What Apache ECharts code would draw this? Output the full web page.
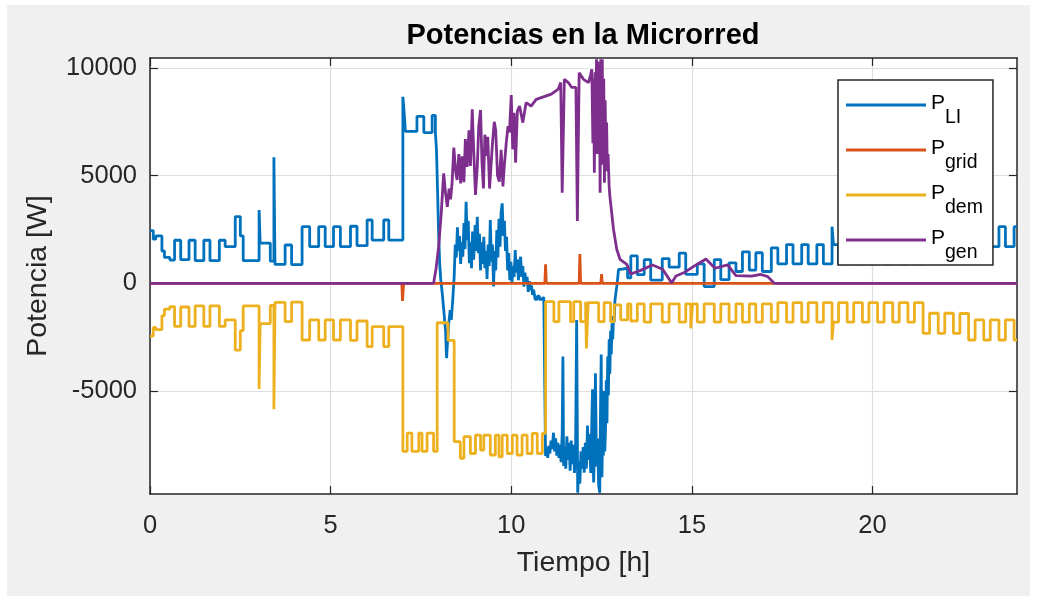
<!DOCTYPE html>
<html>
<head>
<meta charset="utf-8">
<script src="https://cdn.jsdelivr.net/npm/echarts@6/dist/echarts.min.js"></script>
<style>
  html, body { margin: 0; padding: 0; background: #ffffff; }
  #frame { position: absolute; left: 7px; top: 5px; width: 1023px; height: 591px; background: #f0f0f0; }
  #chart { position: absolute; left: 0; top: 0; width: 1040px; height: 596px; }
</style>
</head>
<body>
<div id="frame"></div>
<div id="chart"></div>
<script>
// Series names and the subscripts shown in the legend
const seriesNames = ['PLI', 'Pgrid', 'Pdem', 'Pgen'];
const legendSubs = { PLI: 'LI', Pgrid: 'grid', Pdem: 'dem', Pgen: 'gen' };
const seriesColors = ['#0072BD', '#D95319', '#EDB120', '#7E2F8E'];

// Tick values of both axes
const xTicks = [0, 5, 10, 15, 20];
const yTicks = [-5000, 0, 5000, 10000];

// Battery / inverter power [h, W] (each value held until the next sample)
const pLI = [
  [0, 2450], [0.09, 2050], [0.16, 2200], [0.33, 1500], [0.40, 1200], [0.55, 1080],
  [0.68, 2000], [0.85, 1100], [1.08, 2000], [1.25, 1050], [1.49, 2000], [1.66, 1050],
  [1.92, 2000], [2.08, 1700], [2.36, 3100], [2.50, 2200], [2.58, 1050],
  [3.02, 3400], [3.05, 1870], [3.33, 1030], [3.43, 5850], [3.46, 880],
  [3.74, 1780], [3.92, 870], [4.21, 2630], [4.42, 1700], [4.67, 2630], [4.85, 1700],
  [5.08, 2630], [5.27, 1700], [5.55, 2650], [5.73, 1750], [6.01, 2940], [6.15, 2010],
  [6.47, 2940], [6.61, 2010],
  [7.00, 8660], [7.03, 8050], [7.07, 7050], [7.39, 7750], [7.58, 7000], [7.81, 7800], [7.90, 7000],
  [7.93, 6200], [7.96, 4300], [7.99, 2300], [8.02, 900], [8.05, 150], [8.09, -465], [8.14, -1400],
  [8.18, -2170], [8.21, -3480], [8.24, -2600], [8.27, -1860], [8.31, -1240], [8.34, -1700],
  [8.38, -775], [8.42, 300], [8.45, 1800], [8.48, 1200], [8.51, 2600], [8.54, 1500], [8.57, 2200],
  [8.60, 900], [8.63, 1900], [8.66, 1235], [8.69, 2800], [8.72, 1600], [8.75, 3790], [8.78, 2000],
  [8.81, 2900], [8.84, 930], [8.87, 1900], [8.90, 700], [8.93, 2400], [8.96, 1100], [9.00, 2700],
  [9.03, 1500], [9.06, 3090], [9.09, 1400], [9.12, 2300], [9.15, 600], [9.18, 1900], [9.21, 900],
  [9.24, 2165], [9.27, 700], [9.30, 1500], [9.33, 200], [9.36, 1800], [9.39, 800], [9.42, 2940],
  [9.45, 1000], [9.48, 1800], [9.51, -150], [9.54, 1500], [9.57, 600], [9.60, 2475], [9.63, 1200],
  [9.66, 3000], [9.69, 1700], [9.72, 3300], [9.75, 3715], [9.78, 2200], [9.81, 2900], [9.84, 1500],
  [9.87, 2165], [9.90, 600], [9.93, 1400], [9.96, 150], [9.99, 1000], [10.02, 0], [10.05, 800],
  [10.08, 300], [10.11, 1545], [10.14, 500], [10.17, 1100], [10.20, 150], [10.23, 900], [10.26, 1235],
  [10.29, 300], [10.32, 800], [10.35, -150], [10.38, 500], [10.41, 0], [10.44, 300], [10.47, -400],
  [10.50, 100], [10.53, -300], [10.56, -100], [10.59, -540], [10.62, -300], [10.66, -740],
  [10.72, -600], [10.78, -740], [10.84, -650], [10.90, -740],
  [10.95, -8020], [10.98, -7600], [11.01, -8100], [11.04, -7550], [11.07, -7900], [11.10, -7300],
  [11.13, -7700], [11.17, -6935], [11.20, -7800], [11.23, -7200], [11.26, -8000], [11.29, -7400],
  [11.32, -8100], [11.35, -7500], [11.38, -8300], [11.41, -7000], [11.43, -3400], [11.45, -8480],
  [11.48, -7600], [11.51, -8600], [11.54, -7100], [11.57, -8200], [11.60, -7400], [11.63, -8700],
  [11.66, -7300], [11.69, -8400], [11.72, -7500], [11.75, -8800], [11.78, -7900], [11.81, -1700],
  [11.84, -9720], [11.87, -8300], [11.90, -9300], [11.93, -7800], [11.96, -8600], [11.99, -7600],
  [12.02, -8790], [12.05, -7400], [12.08, -8600], [12.11, -6600], [12.14, -8200], [12.17, -7000],
  [12.20, -8800], [12.23, -6500], [12.25, -4920], [12.28, -9250], [12.31, -7500], [12.33, -4180],
  [12.36, -8500], [12.39, -7200], [12.42, -9400], [12.45, -9720], [12.47, -6000], [12.49, -3300],
  [12.51, -9000], [12.53, -7000], [12.55, -8000], [12.57, -5000], [12.59, -7800], [12.61, -6780],
  [12.63, -4500], [12.65, -6500], [12.67, -3400], [12.69, -5200], [12.71, -2600], [12.73, -4200],
  [12.75, -2200], [12.77, -3300], [12.79, -1860], [12.81, -2600], [12.83, -1520], [12.85, -1800],
  [12.87, -800], [12.90, -400], [12.92, -155], [12.95, 300], [12.97, 650],
  [13.03, 700], [13.22, 250], [13.31, 1270], [13.49, 400], [13.68, 1100], [13.86, 150],
  [14.18, 1150], [14.37, 750], [14.65, 1400], [14.83, 420], [15.15, 900], [15.34, -150],
  [15.62, 1100], [15.80, 170], [16.03, 950], [16.22, 550], [16.40, 1460], [16.59, 610],
  [16.77, 1420], [16.95, 550], [17.20, 1650], [17.38, 900], [17.62, 1800], [17.80, 900],
  [18.04, 1800], [18.22, 900], [18.46, 1800], [18.64, 900], [18.88, 2630], [18.92, 1800],
  [19.06, 900], [19.30, 1800], [19.48, 900], [19.72, 1800], [19.90, 900], [20.14, 1800],
  [20.32, 900], [20.56, 1800], [20.74, 900], [20.98, 1800], [21.16, 900], [21.40, 2320],
  [21.58, 1390], [21.82, 2320], [22.00, 1390], [22.24, 2320], [22.42, 1400], [22.66, 2630],
  [22.84, 1700], [23.08, 2630], [23.26, 1700], [23.50, 2630], [23.68, 1700], [23.92, 2630],
  [24, 2630]
];

// Grid power [h, W]
const pGrid = [
  [0, 0], [6.97, 0], [6.99, -820], [7.02, 0], [10.93, 0], [10.95, 880], [10.97, 0],
  [11.88, 0], [11.90, 1360], [11.92, 0], [12.48, 0], [12.50, 430], [12.52, 0], [24, 0]
];

// Demand [h, W] (each value held until the next sample)
const pDem = [
  [0, -2450], [0.09, -2050], [0.16, -2150], [0.33, -1500], [0.40, -1200], [0.55, -1080],
  [0.68, -2000], [0.85, -1100], [1.08, -2000], [1.25, -1050], [1.49, -2000], [1.66, -1050],
  [1.92, -2000], [2.08, -1700], [2.36, -3100], [2.50, -2200], [2.58, -1050],
  [3.02, -4900], [3.05, -1870], [3.33, -1030], [3.43, -5850], [3.46, -880],
  [3.74, -1780], [3.92, -870], [4.21, -2630], [4.42, -1700], [4.67, -2630], [4.85, -1700],
  [5.08, -2630], [5.27, -1700], [5.55, -2650], [5.73, -1750], [6.01, -2940], [6.15, -2010],
  [6.47, -2940], [6.61, -2010],
  [7.00, -7800], [7.12, -6950], [7.25, -7800], [7.44, -6950], [7.53, -7800], [7.67, -6950],
  [7.85, -7800], [7.95, -1830], [8.25, -2650], [8.42, -7350], [8.59, -8120], [8.69, -7120],
  [8.87, -7900], [9.01, -7050], [9.15, -7740], [9.24, -7050], [9.42, -7970], [9.56, -7050],
  [9.66, -8050], [9.75, -7050], [9.89, -7900], [10.03, -7050], [10.16, -7970], [10.30, -7050],
  [10.44, -7900], [10.58, -6970], [10.72, -7900], [10.86, -6970],
  [10.95, -850], [11.18, -1780], [11.32, -850], [11.64, -1780], [11.73, -850], [11.92, -1780],
  [12.06, -850], [12.08, -3020], [12.13, -900], [12.42, -1780], [12.57, -900], [12.75, -1780],
  [12.85, -1000], [13.03, -1700], [13.22, -950], [13.31, -1750], [13.49, -950], [13.68, -1800],
  [13.86, -950], [14.18, -1800], [14.37, -950], [14.65, -1800], [14.83, -950], [14.97, -2090],
  [15.02, -950], [15.15, -1800], [15.34, -950], [15.62, -1800], [15.80, -950], [16.03, -1800],
  [16.22, -950], [16.40, -1800], [16.59, -950], [16.77, -1800], [16.95, -950], [17.20, -1800],
  [17.38, -900], [17.62, -1800], [17.80, -900], [18.04, -1800], [18.22, -900], [18.46, -1800],
  [18.64, -900], [18.88, -2630], [18.92, -1800], [19.06, -900], [19.30, -1800], [19.48, -900],
  [19.72, -1800], [19.90, -900], [20.14, -1800], [20.32, -900], [20.56, -1800], [20.74, -900],
  [20.98, -1800], [21.16, -900], [21.40, -2320], [21.58, -1390], [21.82, -2320], [22.00, -1390],
  [22.24, -2320], [22.42, -1400], [22.66, -2630], [22.84, -1700], [23.08, -2630], [23.26, -1700],
  [23.50, -2630], [23.68, -1700], [23.92, -2630], [24, -2630]
];

// Generation [h, W]
const pGen = [
  [0, 0], [7.85, 0], [7.92, 700], [7.99, 1700], [8.06, 3200], [8.10, 4300], [8.13, 5100],
  [8.18, 4200], [8.23, 3550], [8.28, 4400], [8.32, 3900], [8.36, 4600], [8.41, 6300],
  [8.46, 5200], [8.50, 4800], [8.55, 6000], [8.60, 4640], [8.64, 5900], [8.69, 4700],
  [8.73, 6700], [8.78, 5400], [8.83, 7100], [8.87, 5450], [8.92, 8080], [8.96, 6200],
  [9.01, 4100], [9.06, 5400], [9.10, 7300], [9.15, 8046], [9.19, 5600], [9.23, 4400],
  [9.27, 6900], [9.31, 5900], [9.35, 6800], [9.40, 4400], [9.44, 4330], [9.48, 6500],
  [9.53, 7500], [9.57, 7100], [9.62, 5000], [9.67, 4720], [9.72, 6200], [9.77, 4500],
  [9.81, 5500], [9.86, 6500], [9.91, 7300], [9.95, 7000], [10.00, 8740], [10.04, 6220],
  [10.08, 7920], [10.12, 5600], [10.17, 8000], [10.23, 8230], [10.32, 7460], [10.41, 8385],
  [10.55, 8230], [10.69, 8540], [10.83, 8620], [10.97, 8700], [11.11, 8780], [11.30, 9010],
  [11.37, 9320], [11.41, 4205], [11.47, 9470], [11.58, 9320], [11.67, 9100], [11.79, 9100],
  [11.83, 2890], [11.88, 9780], [12.00, 9470], [12.14, 9320], [12.20, 9700], [12.23, 9935],
  [12.26, 6500], [12.28, 9500], [12.30, 5135], [12.32, 9800], [12.34, 7000], [12.36, 10400],
  [12.38, 6000], [12.40, 10300], [12.42, 7500], [12.44, 9800], [12.46, 4205], [12.48, 10400],
  [12.50, 7000], [12.52, 10400], [12.54, 5500], [12.56, 9500], [12.58, 4670], [12.60, 8500],
  [12.62, 6000], [12.64, 7460], [12.66, 5200], [12.68, 6000], [12.71, 4500], [12.73, 4050],
  [12.83, 2510], [12.92, 1580], [13.01, 1115], [13.20, 880], [13.31, 430], [13.58, 600],
  [13.91, 850], [14.19, 650], [14.44, 20], [14.56, 340], [14.79, 500], [15.06, 800],
  [15.39, 1130], [15.64, 700], [15.99, 860], [16.22, 360], [16.65, 330], [16.91, 410],
  [17.10, 310], [17.28, 0], [24, 0]
];

const FONT = '"Liberation Sans", Arial, Helvetica, sans-serif';
const AXIS_COLOR = '#262626';

const chart = echarts.init(document.getElementById('chart'), null, { renderer: 'canvas' });

const stepped = { PLI: 'end', Pdem: 'end' };
const dataBySeries = { PLI: pLI, Pgrid: pGrid, Pdem: pDem, Pgen: pGen };

const series = seriesNames.map((name, i) => ({
  name: name,
  type: 'line',
  data: dataBySeries[name],
  step: stepped[name] || false,
  showSymbol: false,
  symbol: 'none',
  lineStyle: { color: seriesColors[i], width: 2.8 },
  itemStyle: { color: seriesColors[i] },
  emphasis: { disabled: true },
  animation: false,
  z: 2
}));

function axisFrame(ticks) {
  return {
    axisLine: { show: true, onZero: false, lineStyle: { color: AXIS_COLOR, width: 1.5 } },
    axisTick: { show: true, inside: true, length: 8, customValues: ticks,
                lineStyle: { color: AXIS_COLOR, width: 1.2 } }
  };
}

const plainNumber = v => String(v);

const option = {
  backgroundColor: 'transparent',
  animation: false,
  textStyle: { fontFamily: FONT },
  title: {
    text: 'Potencias en la Microrred',
    left: 578,
    top: 16,
    textAlign: 'center',
    textStyle: { fontFamily: FONT, fontSize: 29, fontWeight: 'bold', color: '#000000' }
  },
  grid: {
    left: 150, top: 58, width: 867, height: 436,
    show: true, backgroundColor: '#ffffff', borderWidth: 0,
    outerBoundsMode: 'none'
  },
  legend: {
    orient: 'vertical',
    left: 838, top: 80,
    z: 10,
    padding: [12.5, 10, 2.5, 8],
    itemWidth: 80, itemHeight: 3, itemGap: 10, itemTextGap: 8,
    backgroundColor: '#ffffff',
    borderColor: AXIS_COLOR, borderWidth: 1.5, borderRadius: 0,
    selectedMode: false,
    data: seriesNames.map(n => ({ name: n, icon: 'rect' })),
    formatter: n => '{p|P}{s|' + legendSubs[n] + '}',
    textStyle: {
      fontFamily: FONT, color: '#000000',
      rich: {
        p: { fontFamily: FONT, fontSize: 21, color: '#000000', padding: [0, 0, 4, 0] },
        s: { fontFamily: FONT, fontSize: 19.5, color: '#000000', padding: [25, 0, 0, 0] }
      }
    }
  },
  xAxis: [
    Object.assign({
      type: 'value', min: 0, max: 24, position: 'bottom',
      name: 'Tiempo [h]', nameLocation: 'middle', nameGap: 55,
      nameTextStyle: { fontFamily: FONT, fontSize: 28.5, color: AXIS_COLOR },
      axisLabel: { show: true, customValues: xTicks, margin: 19, formatter: plainNumber,
                   fontFamily: FONT, fontSize: 25.5, color: AXIS_COLOR },
      splitLine: { show: true, lineStyle: { color: '#dedede', width: 1.2 } }
    }, axisFrame(xTicks)),
    Object.assign({
      type: 'value', min: 0, max: 24, position: 'top',
      axisLabel: { show: false },
      splitLine: { show: false }
    }, axisFrame(xTicks))
  ],
  yAxis: [
    Object.assign({
      type: 'value', min: -9780, max: 10460, position: 'left',
      name: 'Potencia [W]', nameLocation: 'middle', nameGap: 97,
      nameTextStyle: { fontFamily: FONT, fontSize: 28.5, color: AXIS_COLOR },
      axisLabel: { show: true, customValues: yTicks, margin: 13, formatter: plainNumber,
                   padding: [5, 0, 0, 0],
                   fontFamily: FONT, fontSize: 25.5, color: AXIS_COLOR },
      splitLine: { show: true, lineStyle: { color: '#dedede', width: 1.2 } }
    }, axisFrame(yTicks)),
    Object.assign({
      type: 'value', min: -9780, max: 10460, position: 'right',
      axisLabel: { show: false },
      splitLine: { show: false }
    }, axisFrame(yTicks))
  ],
  series: series
};

chart.setOption(option);
</script>
</body>
</html>
